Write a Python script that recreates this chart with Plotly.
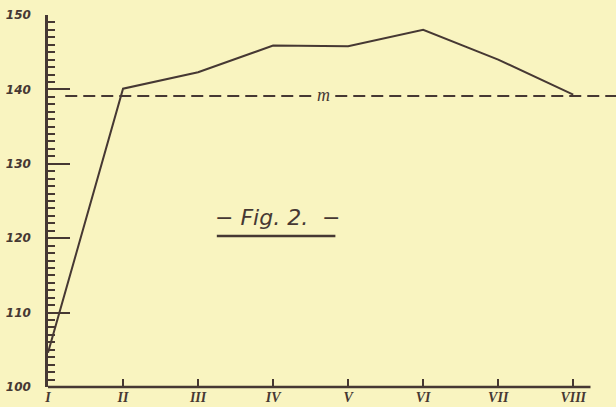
"""Fig. 2 - hand-drawn style line chart with mean line m."""
import plotly.graph_objects as go

# data
stages = ["I", "II", "III", "IV", "V", "VI", "VII", "VIII"]
values = [104.6, 140.1, 142.3, 145.9, 145.8, 148.0, 144.0, 139.3]
mean_m = 139.1
y_major = [100, 110, 120, 130, 140, 150]
y_mid = [105, 115, 125, 135, 145]

INK = "#463833"
PAPER = "#f9f4c0"
LABEL_FONT = dict(family="DejaVu Sans", size=12, color=INK, style="italic", weight="bold")
ROMAN_FONT = dict(family="Liberation Serif", size=14, color=INK, style="italic", weight="bold")

pos = list(range(len(stages)))

fig = go.Figure()
fig.add_scatter(x=pos, y=values, mode="lines", line=dict(color=INK, width=2), showlegend=False, hoverinfo="skip")

# dashed mean line, runs off the right edge of the sheet
fig.add_shape(type="line", xref="x", yref="y", x0=0.23, x1=7.6, y0=mean_m, y1=mean_m,
              line=dict(color=INK, width=2, dash="12px,6px"))
fig.add_annotation(x=3.67, y=mean_m, text="m", showarrow=False, bgcolor=PAPER,
                   font=dict(family="Liberation Serif", size=18, color=INK, style="italic"), yshift=1)

# x baseline stops short of the right edge
fig.add_shape(type="line", xref="x", yref="paper", x0=0, x1=7.23, y0=0, y1=0,
              line=dict(color=INK, width=2.5))

# title in the middle of the sheet
fig.add_annotation(x=3.06, y=122.8, text="\u2212 Fig. 2.  \u2212", showarrow=False,
                   font=dict(family="DejaVu Sans", size=22, color=INK, style="italic"))
fig.add_shape(type="line", xref="x", yref="y", x0=2.25, x1=3.83, y0=120.3, y1=120.3,
              line=dict(color=INK, width=2.5))

fig.update_layout(
    width=616, height=407,
    margin=dict(l=48, r=0, t=15, b=20, autoexpand=False),
    paper_bgcolor=PAPER, plot_bgcolor=PAPER,
    xaxis=dict(range=[0, 7.57], tickvals=pos, ticktext=stages, ticks="inside", ticklen=8,
               tickwidth=2, tickcolor=INK, showline=False, showgrid=False, zeroline=False,
               tickfont=ROMAN_FONT, ticklabelstandoff=0, automargin=False),
    yaxis=dict(range=[100, 150], tickvals=y_major, ticks="inside", ticklen=22, tickwidth=2,
               tickcolor=INK, showline=True, linecolor=INK, linewidth=2.5, showgrid=False,
               zeroline=False, tickfont=LABEL_FONT, ticklabelstandoff=12, automargin=False,
               minor=dict(dtick=1, tick0=100, ticks="inside", ticklen=7, tickwidth=2,
                          tickcolor=INK, showgrid=False)),
    yaxis2=dict(range=[100, 150], overlaying="y", anchor="x", side="left", tickvals=y_mid,
                ticks="inside", ticklen=14, tickwidth=2, tickcolor=INK, showticklabels=False,
                showgrid=False, zeroline=False, showline=False, automargin=False),
)

# drop the browser's default body margin so the sheet sits at the window corner
fig.write_html("out.html", config={"displayModeBar": False},
               post_script="document.body.style.margin='0';")
